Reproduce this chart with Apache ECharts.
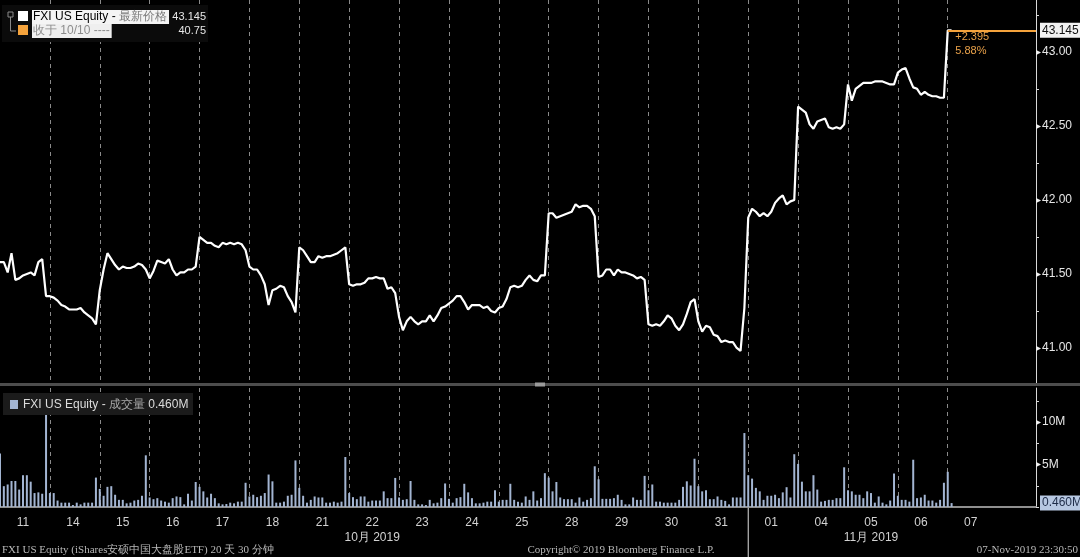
<!DOCTYPE html>
<html>
<head>
<meta charset="utf-8">
<script src="https://cdn.jsdelivr.net/npm/echarts@6/dist/echarts.min.js"></script>
<style>
html,body{margin:0;padding:0;background:#000;overflow:hidden;}
#chart{width:1080px;height:557px;}
</style>
</head>
<body>
<div id="chart"></div>
<script>
// ---------------- data ----------------
const dayLabels = ['11','14','15','16','17','18','21','22','23','24','25','28','29','30','31','01','04','05','06','07'];
const monthLabels = ['10月 2019', '11月 2019'];
const monthAnchorDays = ['22', '05'];
const monthStartDay = '01';

// 30-minute closes, one list per trading day
const priceByDay = [
  [41.58, 41.58, 41.51, 41.64, 41.46, 41.47, 41.49, 41.50, 41.51, 41.49, 41.58, 41.60, 41.35],
  [41.35, 41.34, 41.32, 41.29, 41.28, 41.26, 41.26, 41.26, 41.27, 41.24, 41.22, 41.20, 41.16],
  [41.39, 41.53, 41.64, 41.60, 41.56, 41.53, 41.55, 41.54, 41.54, 41.55, 41.57, 41.56, 41.53],
  [41.47, 41.52, 41.59, 41.58, 41.57, 41.60, 41.53, 41.49, 41.51, 41.51, 41.53, 41.53, 41.55],
  [41.75, 41.73, 41.71, 41.71, 41.69, 41.68, 41.71, 41.70, 41.71, 41.70, 41.71, 41.70, 41.66],
  [41.55, 41.53, 41.53, 41.49, 41.43, 41.29, 41.39, 41.40, 41.42, 41.41, 41.35, 41.31, 41.24],
  [41.68, 41.66, 41.62, 41.58, 41.58, 41.62, 41.61, 41.62, 41.62, 41.63, 41.64, 41.66, 41.68],
  [41.43, 41.42, 41.43, 41.43, 41.44, 41.47, 41.47, 41.48, 41.47, 41.47, 41.40, 41.41, 41.37],
  [41.21, 41.12, 41.18, 41.21, 41.18, 41.16, 41.18, 41.18, 41.22, 41.18, 41.22, 41.27, 41.28],
  [41.30, 41.32, 41.35, 41.35, 41.31, 41.26, 41.29, 41.29, 41.29, 41.27, 41.28, 41.25, 41.24],
  [41.27, 41.28, 41.33, 41.41, 41.42, 41.41, 41.42, 41.46, 41.49, 41.46, 41.45, 41.49, 41.49],
  [41.91, 41.91, 41.88, 41.89, 41.90, 41.91, 41.92, 41.97, 41.95, 41.96, 41.96, 41.94, 41.89],
  [41.48, 41.49, 41.53, 41.53, 41.49, 41.53, 41.51, 41.51, 41.50, 41.49, 41.47, 41.48, 41.46],
  [41.16, 41.15, 41.16, 41.15, 41.18, 41.22, 41.20, 41.15, 41.12, 41.16, 41.23, 41.31, 41.33],
  [41.18, 41.11, 41.15, 41.14, 41.09, 41.08, 41.04, 41.05, 41.04, 41.04, 41.00, 40.98, 41.27],
  [41.88, 41.94, 41.92, 41.89, 41.91, 41.89, 41.92, 41.98, 42.01, 42.03, 41.97, 41.99, 42.00],
  [42.63, 42.61, 42.59, 42.51, 42.48, 42.53, 42.54, 42.55, 42.49, 42.48, 42.49, 42.48, 42.51],
  [42.78, 42.67, 42.75, 42.77, 42.79, 42.79, 42.79, 42.80, 42.80, 42.80, 42.79, 42.78, 42.78],
  [42.86, 42.88, 42.89, 42.82, 42.76, 42.75, 42.71, 42.73, 42.71, 42.70, 42.70, 42.69, 42.69],
  [43.145, 43.145]
];

// 30-minute volume in millions, one list per trading day
const volumeByDay = [
  [6.29, 2.45, 2.65, 3.06, 3.06, 2.05, 3.74, 3.74, 2.98, 1.64, 1.72, 1.56, 10.93],
  [1.64, 1.64, 0.76, 0.51, 0.51, 0.51, 0.23, 0.51, 0.31, 0.51, 0.51, 0.51, 3.46],
  [2.13, 1.32, 2.37, 2.45, 1.44, 0.84, 0.84, 0.43, 0.51, 0.76, 0.84, 1.32, 6.08],
  [1.12, 0.92, 1.04, 0.76, 0.63, 0.51, 1.04, 1.24, 1.16, 0.31, 1.56, 0.76, 2.94],
  [2.37, 1.84, 1.12, 1.56, 1.04, 0.43, 0.31, 0.35, 0.51, 0.43, 0.63, 0.63, 2.85],
  [1.24, 1.44, 1.16, 1.32, 1.64, 3.82, 3.02, 0.51, 0.51, 0.63, 1.32, 1.44, 5.48],
  [2.25, 1.32, 0.51, 0.84, 1.24, 1.12, 1.12, 0.51, 0.51, 0.63, 0.51, 0.63, 5.88],
  [1.64, 1.16, 0.92, 1.24, 1.24, 0.63, 0.76, 0.76, 0.76, 1.84, 1.04, 1.04, 3.42],
  [1.12, 0.84, 0.92, 3.06, 0.84, 0.31, 0.31, 0.23, 0.84, 0.43, 0.51, 1.04, 2.77],
  [0.96, 0.51, 1.04, 1.16, 2.73, 1.72, 1.04, 0.43, 0.43, 0.51, 0.63, 0.63, 1.97],
  [0.63, 0.84, 0.84, 2.73, 0.84, 0.63, 0.51, 1.24, 0.84, 1.84, 0.76, 1.04, 3.98],
  [3.46, 1.84, 2.94, 1.12, 0.92, 0.92, 0.92, 0.51, 1.12, 0.63, 0.84, 1.04, 4.79],
  [3.26, 0.96, 0.96, 0.96, 1.04, 1.44, 0.84, 0.31, 0.31, 1.12, 0.84, 0.84, 3.66],
  [1.97, 2.65, 0.63, 0.63, 0.51, 0.51, 0.51, 0.51, 0.84, 2.37, 3.02, 2.53, 5.68],
  [2.45, 1.84, 1.97, 0.92, 0.92, 1.24, 0.84, 0.72, 0.31, 1.12, 1.12, 1.12, 8.70],
  [3.74, 3.34, 2.25, 1.84, 0.84, 1.32, 1.32, 1.44, 1.04, 1.72, 2.33, 1.12, 6.21],
  [5.07, 2.98, 1.84, 1.84, 3.74, 2.05, 0.63, 0.72, 0.84, 0.84, 1.04, 1.04, 4.67],
  [1.97, 1.84, 1.44, 1.44, 1.04, 1.84, 1.64, 0.51, 1.24, 0.51, 0.31, 0.76, 3.94],
  [1.32, 0.84, 0.84, 0.63, 5.56, 1.04, 1.12, 1.44, 0.76, 0.76, 0.51, 0.84, 2.85],
  [4.14, 0.46]
];

const priceTickLabels = ['41.00', '41.50', '42.00', '42.50', '43.00'];
const volumeTickValues = [5, 10];
const volumeTickLabels = ['5M', '10M'];

const ticker = 'FXI US Equity';
const lastPriceName = '最新价格';
const refCloseLabel = '收于 10/10 ----';
const refClose = 40.75;
const volumeName = '成交量';
const footerLeft = 'FXI US Equity (iShares安硕中国大盘股ETF) 20 天 30 分钟';
const footerMid = 'Copyright© 2019 Bloomberg Finance L.P.';
const footerRight = '07-Nov-2019 23:30:50';

// ---------------- build ----------------
const BARS = 13;
const SLOTS = 271;
const cats = Array.from({length: SLOTS}, (_, i) => String(i));
const price = [].concat(...priceByDay);
const volume = [].concat(...volumeByDay);
const last = price[price.length - 1];
const lastVol = volume[volume.length - 1];
const lastDayStart = (dayLabels.length - 1) * BARS;
const change = last - refClose;
const changePct = change / refClose * 100;

const FONT = 'Liberation Sans';
const isBoundary = (idx) => idx > 0 && idx % BARS === 0 && idx / BARS < dayLabels.length;
const isCenter = (idx) => idx % BARS === 6 && Math.floor(idx / BARS) < dayLabels.length;

const chart = echarts.init(document.getElementById('chart'), null, {width: 1080, height: 557});

const option = {
  backgroundColor: '#000',
  animation: false,
  grid: [
    {left: 0, right: 44, top: 0, height: 385},
    {left: 0, right: 44, top: 388, height: 119}
  ],
  xAxis: [
    {
      type: 'category', gridIndex: 0, data: cats, boundaryGap: false,
      axisLine: {show: false}, axisTick: {show: false}, axisLabel: {show: false},
      splitLine: {show: true, interval: isBoundary, lineStyle: {color: '#8a8a8a', width: 1, type: [4, 4]}}
    },
    {
      type: 'category', gridIndex: 1, data: cats, boundaryGap: false,
      axisLine: {show: true, lineStyle: {color: '#8f8f8f', width: 2}},
      axisTick: {show: true, inside: true, length: 4, interval: isBoundary, lineStyle: {color: '#b0b0b0'}},
      axisLabel: {
        show: true, interval: isCenter, margin: 8,
        formatter: (v, idx) => {
          const d = Math.floor(Number(v) / BARS);
          const lab = dayLabels[d];
          const k = monthAnchorDays.indexOf(lab);
          return k >= 0 ? '{d|' + lab + '}\n{d|' + monthLabels[k] + '}' : '{d|' + lab + '}';
        },
        rich: {d: {fontSize: 12, color: '#d2d2d2', lineHeight: 15, fontFamily: FONT}}
      },
      splitLine: {show: true, interval: isBoundary, lineStyle: {color: '#8a8a8a', width: 1, type: [4, 4]}}
    }
  ],
  yAxis: [
    {
      type: 'value', gridIndex: 0, position: 'right', min: 40.75, max: 43.35, interval: 0.25,
      axisLine: {show: true, lineStyle: {color: '#d8d8d8', width: 1}},
      axisTick: {show: true, length: 3, lineStyle: {color: '#d8d8d8'}},
      splitLine: {show: false},
      axisLabel: {
        margin: 0, showMaxLabel: false,
        formatter: (v) => priceTickLabels.indexOf(v.toFixed(2)) >= 0 ? '{t|▸}{v|' + v.toFixed(2) + '}' : '',
        rich: {t: {fontSize: 10, color: '#f0f0f0', padding: [0, 1, 0, 0]}, v: {fontSize: 12, color: '#e6e6e6', fontFamily: FONT}}
      }
    },
    {
      type: 'value', gridIndex: 1, position: 'right', min: 0, max: 14, interval: 2.5,
      axisLine: {show: true, lineStyle: {color: '#d8d8d8', width: 1}},
      axisTick: {show: true, length: 3, lineStyle: {color: '#d8d8d8'}},
      splitLine: {show: false},
      axisLabel: {
        margin: 0, showMaxLabel: false,
        formatter: (v) => {
          const k = volumeTickValues.indexOf(v);
          return k >= 0 ? '{t|▸}{v|' + volumeTickLabels[k] + '}' : '';
        },
        rich: {t: {fontSize: 10, color: '#f0f0f0', padding: [0, 1, 0, 0]}, v: {fontSize: 12, color: '#e6e6e6', fontFamily: FONT}}
      }
    }
  ],
  series: [
    {
      type: 'line', xAxisIndex: 0, yAxisIndex: 0, data: price, showSymbol: false, silent: true,
      lineStyle: {color: '#ffffff', width: 2.2}, z: 3,
      markLine: {
        silent: true, symbol: ['none', 'none'], animation: false,
        lineStyle: {color: '#f5a33c', width: 2, type: 'solid'},
        label: {
          show: true, position: 'end', distance: 4,
          formatter: last.toFixed(3),
          backgroundColor: '#f2f2f2', color: '#111', padding: [2, 2, 1, 2],
          fontSize: 12, fontFamily: FONT
        },
        data: [[{coord: [cats[lastDayStart], last]}, {coord: [cats[SLOTS - 1], last]}]]
      },
      markPoint: {
        silent: true, animation: false, symbol: 'rect', symbolSize: 1,
        itemStyle: {color: 'rgba(0,0,0,0)'},
        label: {
          show: true, position: [8, 0], align: 'left', verticalAlign: 'top',
          formatter: '+' + change.toFixed(3) + '\n' + changePct.toFixed(2) + '%',
          color: '#e9a149', fontSize: 11, lineHeight: 14, fontFamily: FONT
        },
        data: [{coord: [cats[lastDayStart], last]}]
      }
    },
    {
      type: 'bar', xAxisIndex: 1, yAxisIndex: 1, data: volume, barWidth: 2, silent: true,
      itemStyle: {color: '#a3b5d2'},
      markLine: {
        silent: true, symbol: ['none', 'none'], animation: false,
        lineStyle: {color: 'rgba(0,0,0,0)', width: 1},
        label: {
          show: true, position: 'end', distance: 4,
          formatter: lastVol.toFixed(3) + 'M',
          backgroundColor: '#b7c8e2', color: '#1d2b47', padding: [2, 2, 1, 2],
          fontSize: 12, fontFamily: FONT
        },
        data: [{yAxis: lastVol}]
      }
    }
  ]
};
chart.setOption(option);

// ---------------- overlays (legend boxes, footer, separators) ----------------
const monthX = chart.convertToPixel({xAxisIndex: 1}, cats[dayLabels.indexOf(monthStartDay) * BARS]);
const txt = (x, y, text, opts) => ({
  type: 'text', x, y, z: 100,
  style: Object.assign({text, fill: '#e6e6e6', font: '12px "' + FONT + '"', verticalAlign: 'middle', align: 'left'}, opts || {})
});
const elements = [
  // separator between panels
  {type: 'rect', z: 90, shape: {x: 0, y: 383, width: 1080, height: 3}, style: {fill: '#4d4d4d'}},
  {type: 'rect', z: 91, shape: {x: 535, y: 382.5, width: 10, height: 4}, style: {fill: '#9a9a9a'}},
  // month separator in axis area
  {type: 'line', z: 90, shape: {x1: monthX, y1: 508, x2: monthX, y2: 557}, style: {stroke: '#e0e0e0', lineWidth: 1}},
  // price legend
  {type: 'rect', z: 95, shape: {x: 2, y: 5, width: 206, height: 37}, style: {fill: '#0b0b0b'}},
  {type: 'rect', z: 100, shape: {x: 8, y: 12, width: 5, height: 5}, style: {fill: 'none', stroke: '#8a8a8a', lineWidth: 1}},
  {type: 'polyline', z: 100, shape: {points: [[10.5, 17], [10.5, 31], [16, 31]]}, style: {fill: 'none', stroke: '#8a8a8a', lineWidth: 1}},
  {type: 'rect', z: 100, shape: {x: 18, y: 11, width: 10, height: 10}, style: {fill: '#ffffff'}},
  {type: 'rect', z: 100, shape: {x: 18, y: 25, width: 10, height: 10}, style: {fill: '#f5a33c'}},
  txt(32, 17, '{a|' + ticker + ' - }{b|' + lastPriceName + '}', {
    backgroundColor: '#f4f4f4', padding: [1, 2, 1, 1],
    rich: {a: {fill: '#000', fontSize: 12, fontFamily: FONT}, b: {fill: '#7a7a7a', fontSize: 12}}
  }),
  txt(206, 17, last.toFixed(3), {align: 'right', font: '11px "' + FONT + '"'}),
  txt(32, 31, refCloseLabel, {backgroundColor: '#efefef', padding: [1, 2, 1, 1], fill: '#8c8c8c'}),
  txt(206, 31, refClose.toFixed(2), {align: 'right', font: '11px "' + FONT + '"'}),
  // volume legend
  {type: 'rect', z: 95, shape: {x: 3, y: 393, width: 190, height: 22}, style: {fill: '#1b1b1b'}},
  {type: 'rect', z: 100, shape: {x: 10, y: 400, width: 8, height: 9}, style: {fill: '#a3b5d2'}},
  txt(23, 404.5, '{a|' + ticker + ' - }{b|' + volumeName + '}{a| ' + lastVol.toFixed(3) + 'M}', {
    rich: {a: {fill: '#dcdcdc', fontSize: 12, fontFamily: FONT}, b: {fill: '#a8a8a8', fontSize: 12}}
  }),
  // footer
  txt(2, 550, footerLeft, {font: '11px "Liberation Serif"', fill: '#b8b8b8'}),
  txt(621, 550, footerMid, {font: '11px "Liberation Serif"', fill: '#b8b8b8', align: 'center'}),
  txt(1078, 550, footerRight, {font: '11px "Liberation Serif"', fill: '#b8b8b8', align: 'right'})
];
chart.setOption({graphic: {elements}});
</script>
</body>
</html>
